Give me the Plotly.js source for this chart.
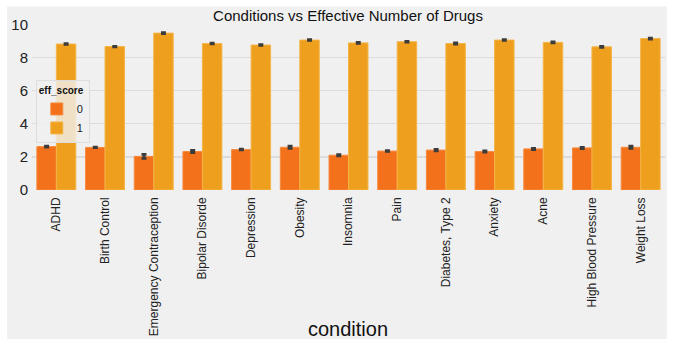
<!DOCTYPE html>
<html>
<head>
<meta charset="utf-8">
<script src="https://cdn.plot.ly/plotly-3.0.1.min.js"></script>
<style>html,body{margin:0;padding:0;background:#fff;}#chart{width:681px;height:355px;}</style>
</head>
<body>
<div id="chart"></div>
<script>
const conditions = ["ADHD","Birth Control","Emergency Contraception","Bipolar Disorde","Depression","Obesity","Insomnia","Pain","Diabetes, Type 2","Anxiety","Acne","High Blood Pressure","Weight Loss"];
const effScore0 = [2.62,2.57,2.03,2.32,2.44,2.58,2.10,2.35,2.41,2.32,2.48,2.54,2.58];
const effScore0Err = [0.04,0.02,0.12,0.07,0.03,0.07,0.04,0.03,0.05,0.04,0.04,0.04,0.07];
const effScore1 = [8.81,8.66,9.47,8.84,8.75,9.05,8.88,8.95,8.84,9.05,8.91,8.64,9.14];
const effScore1Err = [0.03,0.02,0.03,0.03,0.03,0.03,0.03,0.03,0.04,0.03,0.03,0.04,0.03];
const seriesNames = ["0","1"];

const errStyle = {type:"data", visible:true, color:"#3c3c3c", thickness:2.6, width:2.5};
const traces = [
  {type:"bar", name:seriesNames[0], x:conditions, y:effScore0,
   error_y:Object.assign({array:effScore0Err}, errStyle),
   marker:{color:"#F4711B", line:{color:"#F68A3E", width:1}}},
  {type:"bar", name:seriesNames[1], x:conditions, y:effScore1,
   error_y:Object.assign({array:effScore1Err}, errStyle),
   marker:{color:"#EE9F1D", line:{color:"#F4B448", width:1}}}
];

const layout = {
  width:681, height:355,
  paper_bgcolor:"#ffffff",
  plot_bgcolor:"#f0f0f0",
  margin:{l:32, r:16, t:24, b:165, pad:0},
  barmode:"group", bargap:0.2, bargroupgap:0,
  font:{family:"Liberation Sans, Arial, sans-serif", color:"#222"},
  title:{text:"Conditions vs Effective Number of Drugs", font:{size:15, color:"#111"},
         x:0.511, xanchor:"center", y:0.955, yanchor:"middle"},
  xaxis:{type:"category", showgrid:false, zeroline:false, showline:false,
         tickangle:-90, ticks:"", tickfont:{size:12, color:"#222"}, ticklabelstandoff:4,
         title:{text:""}},
  yaxis:{range:[0,10.02], tickvals:[0,2,4,6,8,10], showgrid:true, gridcolor:"#dcdcdc", gridwidth:1.5,
         zeroline:false, showline:false, ticks:"", tickfont:{size:15, color:"#222"}, ticklabelstandoff:3},
  legend:{x:0.006, y:0.66, xanchor:"left", yanchor:"top",
          bgcolor:"rgba(240,240,240,0.8)", bordercolor:"#dddddd", borderwidth:1,
          font:{size:11, color:"#222"},
          title:{text:"<b>eff_score</b>", font:{size:10, color:"#111"}, side:"top"},
          tracegroupgap:0, itemwidth:30},
  shapes:[{type:"rect", xref:"paper", yref:"paper", layer:"below",
           x0:-25/633, x1:1.003, y0:-149/166, y1:(190.5-7)/166,
           fillcolor:"#f0f0f0", line:{width:0}}],
  annotations:[{text:"condition", xref:"paper", yref:"paper", x:0.499, y:-(329-190.5)/166,
                xanchor:"center", yanchor:"middle", showarrow:false,
                font:{size:20, color:"#111"}}]
};

Plotly.newPlot("chart", traces, layout, {staticPlot:true, displayModeBar:false});
</script>
</body>
</html>
